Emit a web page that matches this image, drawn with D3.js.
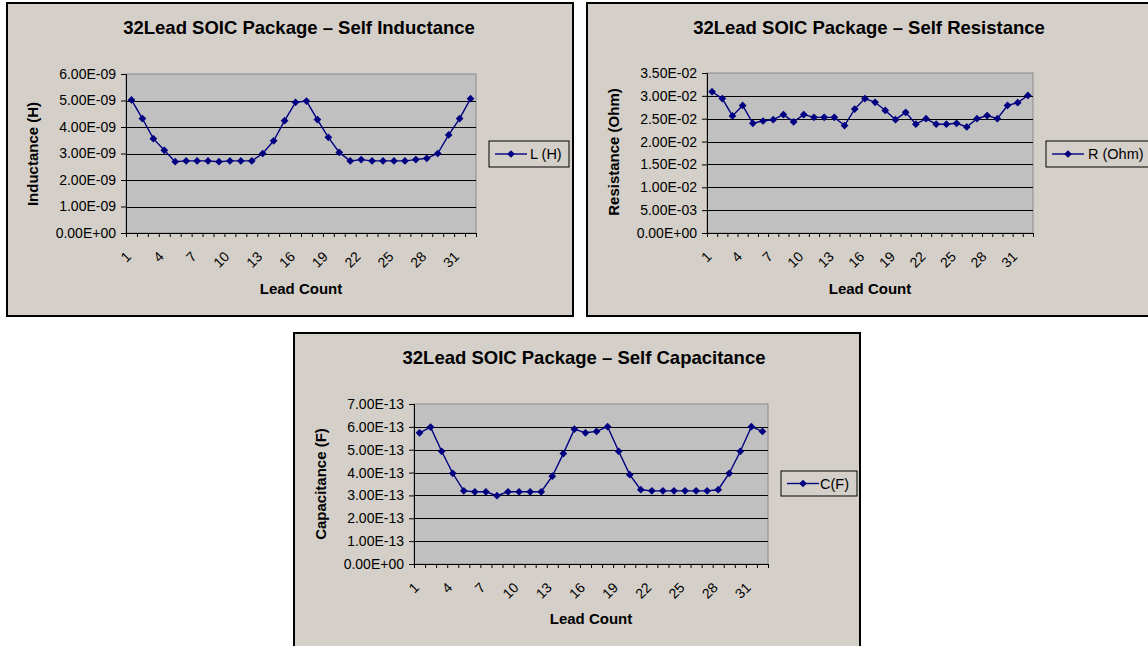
<!DOCTYPE html>
<html>
<head>
<meta charset="utf-8">
<script src="https://cdn.jsdelivr.net/npm/d3@7"></script>
<style>
  body { margin: 0; background: #fff; }
  text { font-family: "Liberation Sans", Arial, sans-serif; fill: #000; }
</style>
</head>
<body>
<script>
const leads = [1, 2, 3, 4, 5, 6, 7, 8, 9, 10, 11, 12, 13, 14, 15, 16,
  17, 18, 19, 20, 21, 22, 23, 24, 25, 26, 27, 28, 29, 30, 31, 32];
const xLabels = [1, 4, 7, 10, 13, 16, 19, 22, 25, 28, 31];

const inductance = [5.02e-9, 4.32e-9, 3.56e-9, 3.12e-9, 2.69e-9, 2.72e-9, 2.72e-9, 2.72e-9,
  2.69e-9, 2.72e-9, 2.72e-9, 2.72e-9, 3.00e-9, 3.48e-9, 4.24e-9, 4.93e-9,
  4.98e-9, 4.28e-9, 3.61e-9, 3.04e-9, 2.72e-9, 2.77e-9, 2.72e-9, 2.72e-9,
  2.72e-9, 2.72e-9, 2.77e-9, 2.82e-9, 3.00e-9, 3.70e-9, 4.32e-9, 5.07e-9];
const resistance = [0.0309, 0.0294, 0.0256, 0.0279, 0.0240, 0.0245, 0.0248, 0.0259,
  0.0243, 0.0259, 0.0253, 0.0253, 0.0253, 0.0235, 0.0271, 0.0294,
  0.0286, 0.0268, 0.0248, 0.0264, 0.0238, 0.0250, 0.0238, 0.0238,
  0.0240, 0.0232, 0.0250, 0.0257, 0.0250, 0.0279, 0.0285, 0.0301];
const capacitance = [5.74e-13, 5.99e-13, 4.93e-13, 3.97e-13, 3.20e-13, 3.16e-13, 3.16e-13, 2.99e-13,
  3.16e-13, 3.16e-13, 3.16e-13, 3.16e-13, 3.84e-13, 4.83e-13, 5.90e-13, 5.74e-13,
  5.80e-13, 6.01e-13, 4.93e-13, 3.91e-13, 3.25e-13, 3.20e-13, 3.20e-13, 3.20e-13,
  3.20e-13, 3.20e-13, 3.20e-13, 3.25e-13, 3.97e-13, 4.93e-13, 6.01e-13, 5.80e-13];

const lTicks = [0, 1e-9, 2e-9, 3e-9, 4e-9, 5e-9, 6e-9];
const rTicks = [0, 0.005, 0.010, 0.015, 0.020, 0.025, 0.030, 0.035];
const cTicks = [0, 1e-13, 2e-13, 3e-13, 4e-13, 5e-13, 6e-13, 7e-13];

const W = 1148, H = 646;
const svg = d3.select("body").append("svg").attr("width", W).attr("height", H);
svg.append("rect").attr("width", W).attr("height", H).attr("fill", "#fff");

// Excel style 0.00E+00
function sci(v) {
  if (v === 0) return "0.00E+00";
  const [m, e] = v.toExponential(2).split("e");
  const n = +e;
  return m + "E" + (n < 0 ? "-" : "+") + String(Math.abs(n)).padStart(2, "0");
}

const FONT = "Liberation Sans, Arial, sans-serif";
const mark = d3.symbol(d3.symbolSquare, 30)();

function drawChart(o) {
  const g = svg.append("g");
  const [bx, by, bw, bh] = o.box;
  const [pl, pt, pr, pb] = o.plot;

  g.append("rect").attr("x", bx).attr("y", by).attr("width", bw).attr("height", bh)
    .attr("fill", "#d4cfc8").attr("stroke", "#000").attr("stroke-width", 2);

  const x = d3.scaleBand().domain(leads).range([pl, pr]);
  const y = d3.scaleLinear().domain([0, d3.max(o.ticks)]).range([pb, pt]);

  g.append("rect").attr("x", pl).attr("y", pt).attr("width", pr - pl).attr("height", pb - pt)
    .attr("fill", "#c0c0c0").attr("stroke", "#8a8a8a").attr("stroke-width", 1);

  // gridlines
  g.selectAll(".grid").data(o.ticks.slice(1, -1)).enter().append("line")
    .attr("x1", pl).attr("x2", pr)
    .attr("y1", d => Math.round(y(d)) + 0.5).attr("y2", d => Math.round(y(d)) + 0.5)
    .attr("stroke", "#000").attr("stroke-width", 1);

  // y axis
  const ya = g.append("g").attr("transform", `translate(${pl},0)`)
    .call(d3.axisLeft(y).tickValues(o.ticks).tickFormat(sci).tickSizeOuter(0).tickSize(5).tickPadding(5));
  ya.select(".domain").attr("stroke", "#000");
  ya.selectAll("text").style("font-size", "14px").style("font-family", FONT);

  // x axis: tick marks on category boundaries
  const bnd = d3.scaleLinear().domain([0, leads.length]).range([pl, pr]);
  const xb = g.append("g").attr("transform", `translate(0,${pb})`)
    .call(d3.axisBottom(bnd).tickValues(d3.range(leads.length + 1)).tickFormat("").tickSize(4).tickSizeOuter(0));
  xb.select(".domain").attr("stroke", "#000");

  // x labels, rotated
  const xl = g.append("g").attr("transform", `translate(0,${pb})`)
    .call(d3.axisBottom(x).tickValues(xLabels).tickSize(0).tickPadding(0));
  xl.select(".domain").remove();
  xl.selectAll("text")
    .style("font-size", "14px").style("font-family", FONT)
    .attr("text-anchor", "end")
    .attr("dy", "0.35em")
    .attr("transform", "translate(-3,21) rotate(-45)");

  // series
  const pts = leads.map((d, i) => [x(d) + x.bandwidth() / 2, y(o.values[i])]);
  g.append("path").attr("d", d3.line()(pts))
    .attr("fill", "none").attr("stroke", "#000080").attr("stroke-width", 1.4);
  g.selectAll(".pt").data(pts).enter().append("path")
    .attr("d", mark)
    .attr("transform", d => `translate(${d[0]},${d[1]}) rotate(45)`)
    .attr("fill", "#000080");

  // titles
  g.append("text").attr("x", o.titleX).attr("y", by + 31).attr("text-anchor", "middle")
    .style("font-size", "18.5px").style("font-weight", "bold").text(o.title);
  g.append("text").attr("x", (pl + pr) / 2).attr("y", by + 291).attr("text-anchor", "middle")
    .style("font-size", "15px").style("font-weight", "bold").text("Lead Count");
  g.append("text").attr("transform", `translate(${o.yTitle[0]},${o.yTitle[1]}) rotate(-90)`)
    .attr("text-anchor", "middle").attr("dy", "0.35em")
    .style("font-size", "15px").style("font-weight", "bold").text(o.yLabel);

  // legend
  const [lx, ly, lw, lh] = o.legend;
  const lg = g.append("g");
  lg.append("rect").attr("x", lx).attr("y", ly).attr("width", lw).attr("height", lh)
    .attr("fill", "none").attr("stroke", "#000").attr("stroke-width", 1);
  lg.append("line").attr("x1", lx + 6).attr("x2", lx + 38)
    .attr("y1", ly + lh / 2).attr("y2", ly + lh / 2)
    .attr("stroke", "#000080").attr("stroke-width", 1.4);
  lg.append("path").attr("d", mark)
    .attr("transform", `translate(${lx + 22},${ly + lh / 2}) rotate(45)`)
    .attr("fill", "#000080");
  lg.append("text").attr("x", lx + o.legendTextDx).attr("y", ly + lh / 2).attr("dy", "0.36em")
    .style("font-size", "14.5px").text(o.seriesName);
}

drawChart({
  box: [7, 3, 566, 313], plot: [126, 74, 476, 233],
  values: inductance, ticks: lTicks,
  title: "32Lead SOIC Package \u2013 Self Inductance", titleX: 299,
  yLabel: "Inductance (H)", yTitle: [33, 154],
  legend: [489, 141, 80, 26], legendTextDx: 41, seriesName: "L (H)"
});

drawChart({
  box: [587, 3, 580, 313], plot: [707, 73, 1033, 233],
  values: resistance, ticks: rTicks,
  title: "32Lead SOIC Package \u2013 Self Resistance", titleX: 869,
  yLabel: "Resistance (Ohm)", yTitle: [614, 152],
  legend: [1046, 141, 110, 26], legendTextDx: 42, seriesName: "R (Ohm)"
});

drawChart({
  box: [294, 333, 566, 320], plot: [414, 404, 768, 564],
  values: capacitance, ticks: cTicks,
  title: "32Lead SOIC Package \u2013 Self Capacitance", titleX: 584,
  yLabel: "Capacitance (F)", yTitle: [321, 484],
  legend: [781, 471, 76, 25], legendTextDx: 39, seriesName: "C(F)"
});
</script>
</body>
</html>
